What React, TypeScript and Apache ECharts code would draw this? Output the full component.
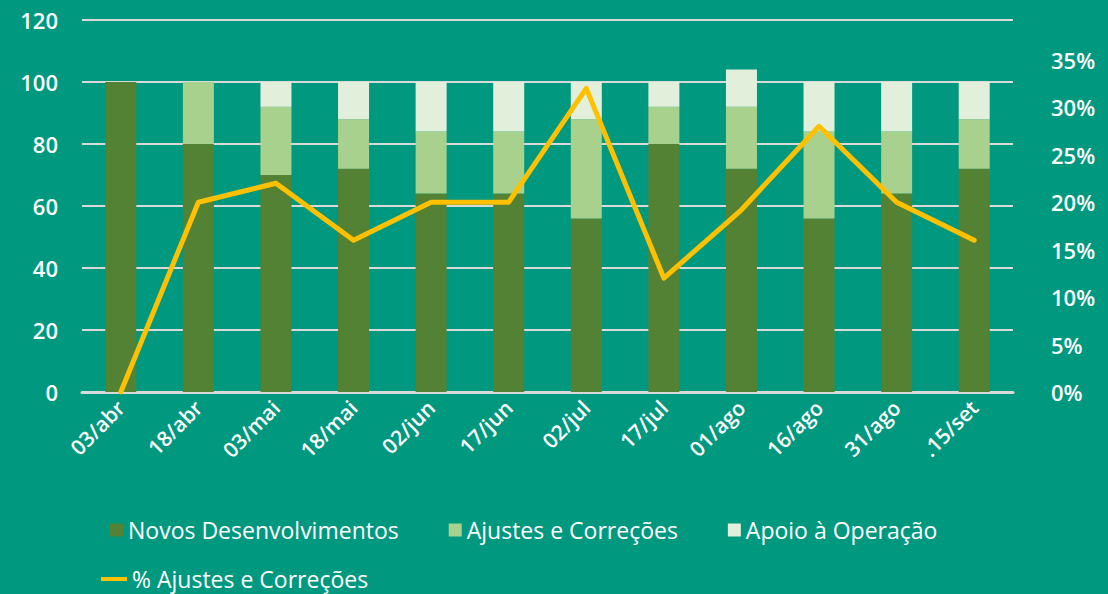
import React, { useEffect, useRef } from "react";
import * as echarts from "echarts";

const categories = ["03/abr", "18/abr", "03/mai", "18/mai", "02/jun", "17/jun", "02/jul", "17/jul", "01/ago", "16/ago", "31/ago", ".15/set"];
const novos = [100, 80, 70, 72, 64, 64, 56, 80, 72, 56, 64, 72];
const ajustes = [0, 20, 22, 16, 20, 20, 32, 12, 20, 28, 20, 16];
const apoio = [0, 0, 8, 12, 16, 16, 12, 8, 12, 16, 16, 12];
const pctAjustes = [0, 0.2, 0.22, 0.16, 0.2, 0.2, 0.32, 0.12, 0.192, 0.28, 0.2, 0.16];

const BG = "#00997F";
const FONT = "'Open Sans', sans-serif";

export default function App() {
  const ref = useRef<HTMLDivElement>(null);
  useEffect(() => {
    if (!ref.current) return;
    const chart = echarts.init(ref.current, undefined, { renderer: "svg" });
    const txt = { color: "#ffffff", fontFamily: FONT, fontWeight: 600 as any };
    chart.setOption({
      animation: false,
      backgroundColor: BG,
      grid: { left: 82, right: 95, top: 20, bottom: 202, containLabel: false },
      legend: [
        {
          left: 105,
          top: 512,
          icon: "rect",
          itemWidth: 13,
          itemHeight: 13,
          itemGap: 50,
          textStyle: { ...txt, fontSize: 23, fontWeight: 500, lineHeight: 26 },
          data: ["Novos Desenvolvimentos", "Ajustes e Correções", "Apoio à Operação"],
        },
        {
          left: 96,
          top: 562,
          itemWidth: 26,
          itemHeight: 4,
          itemGap: 10,
          textStyle: { ...txt, fontSize: 23, fontWeight: 500, lineHeight: 24 },
          data: [{ name: "% Ajustes e Correções", icon: "rect" }],
        },
      ],
      xAxis: {
        type: "category",
        data: categories,
        axisLine: { show: true, lineStyle: { color: "#d9d9d9", width: 3 } },
        axisTick: { show: false },
        axisLabel: { ...txt, fontSize: 21, rotate: 45, margin: 12, interval: 0 },
      },
      yAxis: [
        {
          type: "value",
          min: 0,
          max: 120,
          interval: 20,
          axisLine: { show: false },
          axisTick: { show: false },
          splitLine: { lineStyle: { color: "#d9d9d9", width: 2 } },
          axisLabel: { ...txt, fontSize: 22, margin: 24 },
        },
        {
          type: "value",
          min: 0,
          max: 0.392,
          interval: 0.05,
          axisLine: { show: false },
          axisTick: { show: false },
          splitLine: { show: false },
          axisLabel: {
            ...txt,
            fontSize: 22,
            margin: 38,
            showMaxLabel: false,
            formatter: (v: number) => `${Math.round(v * 100)}%`,
          },
        },
      ],
      series: [
        {
          name: "Novos Desenvolvimentos",
          type: "bar",
          stack: "total",
          barWidth: 31,
          data: novos,
          itemStyle: { color: "#548235" },
        },
        {
          name: "Ajustes e Correções",
          type: "bar",
          stack: "total",
          barWidth: 31,
          data: ajustes,
          itemStyle: { color: "#A9D18E" },
        },
        {
          name: "Apoio à Operação",
          type: "bar",
          stack: "total",
          barWidth: 31,
          data: apoio,
          itemStyle: { color: "#E2EFDA" },
        },
        {
          name: "% Ajustes e Correções",
          type: "line",
          yAxisIndex: 1,
          data: pctAjustes,
          showSymbol: false,
          symbol: "none",
          itemStyle: { color: "#FFC000" },
          lineStyle: { color: "#FFC000", width: 5, cap: "round", join: "round" },
        },
      ],
    });
    return () => chart.dispose();
  }, []);
  return (
    <div
      ref={ref}
      style={{ position: "fixed", left: 0, top: 0, width: 1108, height: 594 }}
    />
  );
}
